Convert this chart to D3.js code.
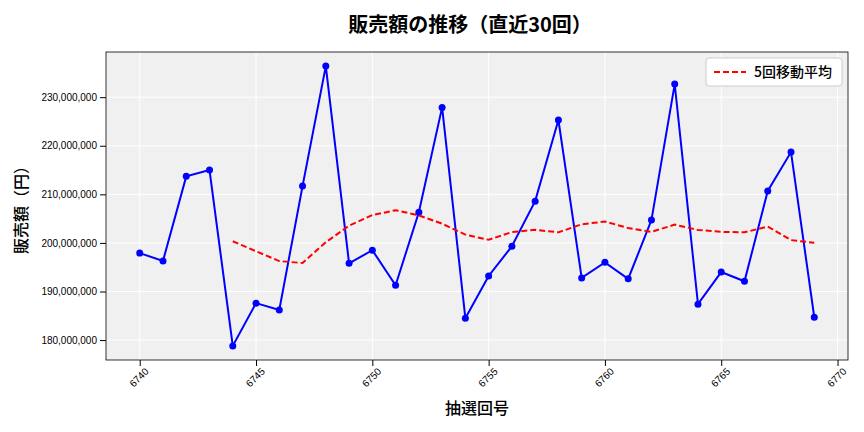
<!DOCTYPE html>
<html><head><meta charset="utf-8">
<script src="https://cdn.jsdelivr.net/npm/d3@7"></script>
<style>body{margin:0;background:#fff;font-family:"Noto Sans CJK JP","Noto Sans",sans-serif}</style>
</head><body><svg id="c" width="864" height="432"></svg>
<script>
const draws = d3.range(6740, 6770);
const sales = [197.9,196.3,213.7,215.0,178.8,187.6,186.2,211.7,236.4,195.8,198.5,191.3,206.3,227.9,184.5,193.2,199.3,208.6,225.3,192.8,196.0,192.6,204.7,232.7,187.4,194.0,192.1,210.7,218.7,184.7].map(v=>v*1e6);
const xTicks = [6740,6745,6750,6755,6760,6765,6770];
const yTicks = [180e6,190e6,200e6,210e6,220e6,230e6];
const ma = sales.map((v,i)=> i<4?null:d3.mean(sales.slice(i-4,i+1)));

const svg = d3.select("#c");
const L=106,R=848,T=52,B=360;
const x = d3.scaleLinear().domain([6738.55,6770.45]).range([L,R]);
const y = d3.scaleLinear().domain([175.9e6,239.3e6]).range([B,T]);
svg.append("rect").attr("x",L).attr("y",T).attr("width",R-L).attr("height",B-T).attr("fill","#f0f0f0");
const g = svg.append("g");
xTicks.forEach(t=>g.append("line").attr("x1",x(t)).attr("x2",x(t)).attr("y1",T).attr("y2",B).attr("stroke","#fff").attr("stroke-width",1));
yTicks.forEach(t=>g.append("line").attr("x1",L).attr("x2",R).attr("y1",y(t)).attr("y2",y(t)).attr("stroke","#fff").attr("stroke-width",1));
const xa = svg.append("g").attr("transform",`translate(0,${B})`).call(d3.axisBottom(x).tickValues(xTicks).tickFormat(d3.format("d")).tickSizeOuter(0));
xa.selectAll("text").attr("transform","rotate(-45)").attr("text-anchor","end").attr("dx","-0.2em").attr("dy","0.6em").style("font-size","10px");
const ya = svg.append("g").attr("transform",`translate(${L},0)`).call(d3.axisLeft(y).tickValues(yTicks).tickFormat(d3.format(",")).tickSizeOuter(0));
ya.selectAll("text").style("font-size","10px");
svg.selectAll(".domain").remove();
svg.append("rect").attr("x",L).attr("y",T).attr("width",R-L).attr("height",B-T).attr("fill","none").attr("stroke","#000").attr("stroke-width",0.8);
svg.append("path").datum(sales).attr("fill","none").attr("stroke","#0000ff").attr("stroke-width",2)
 .attr("d",d3.line().x((d,i)=>x(draws[i])).y(d=>y(d)));
svg.selectAll("circle").data(sales).join("circle").attr("cx",(d,i)=>x(draws[i])).attr("cy",d=>y(d)).attr("r",3.5).attr("fill","#0000ff");
svg.append("path").datum(ma).attr("fill","none").attr("stroke","#ff0000").attr("stroke-width",2).attr("stroke-dasharray","6,3")
 .attr("d",d3.line().defined(d=>d!=null).x((d,i)=>x(draws[i])).y(d=>y(d)));
svg.append("text").attr("x",470).attr("y",32).attr("text-anchor","middle").style("font-size","20px").style("font-weight","bold").text("販売額の推移（直近30回）");
svg.append("text").attr("x",477).attr("y",414).attr("text-anchor","middle").style("font-size","16px").style("font-weight","500").text("抽選回号");
svg.append("text").attr("transform",`translate(27,${(T+B)/2}) rotate(-90)`).attr("text-anchor","middle").style("font-size","16px").style("font-weight","500").text("販売額（円）");
const lg=svg.append("g");
lg.append("rect").attr("x",706).attr("y",58).attr("width",136).attr("height",28).attr("rx",3).attr("fill","#fff").attr("stroke","#ccc");
lg.append("line").attr("x1",714).attr("x2",746).attr("y1",72).attr("y2",72).attr("stroke","#ff0000").attr("stroke-width",2).attr("stroke-dasharray","6,3");
lg.append("text").attr("x",754).attr("y",77).style("font-size","14px").style("font-weight","500").text("5回移動平均");
</script></body></html>
